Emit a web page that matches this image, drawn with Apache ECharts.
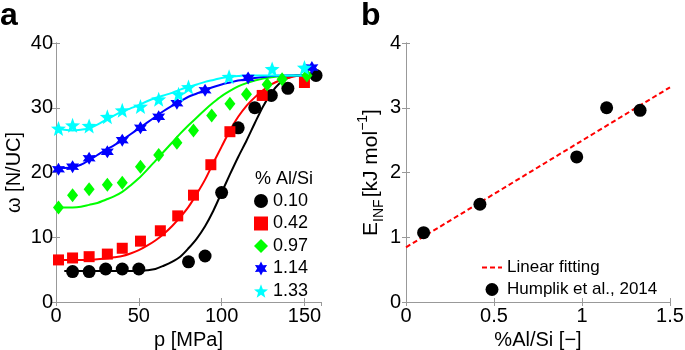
<!DOCTYPE html>
<html>
<head>
<meta charset="utf-8">
<script src="https://cdn.jsdelivr.net/npm/echarts@6/dist/echarts.min.js"></script>
<style>
  html, body { margin: 0; padding: 0; background: #fff; }
  #chart { width: 685px; height: 350px; }
</style>
</head>
<body>
<div id="chart"></div>
<script>
// panel a: measured points, one pair of arrays per Al/Si ratio
const pBlack = [10, 20, 30, 40, 50, 80, 90, 100, 110, 120, 130, 140, 157];
const wBlack = [4.7, 4.7, 5.1, 5.1, 5.1, 6.2, 7.1, 16.9, 26.9, 30.0, 31.9, 33.0, 35.0];
const pRed = [1.5, 10, 20, 31, 40, 51, 63, 73.5, 83, 93.5, 105, 124.5, 150];
const wRed = [6.5, 6.8, 7.0, 7.4, 8.3, 9.4, 11.0, 13.3, 16.5, 21.2, 26.3, 31.9, 33.9];
const pGreen = [1.5, 10, 20, 31, 40, 51, 62, 73, 83, 94, 105, 115, 127.5, 136.5, 151.5];
const wGreen = [14.6, 16.5, 17.4, 18.1, 18.4, 20.9, 22.7, 24.6, 26.5, 28.8, 30.6, 32.1, 33.6, 34.4, 35.0];
const pBlue = [1.5, 10, 20, 31, 40, 51, 62, 73, 90, 116, 154.5];
const wBlue = [20.5, 20.9, 22.2, 23.2, 25.0, 26.9, 28.6, 30.7, 32.7, 34.6, 36.2];
const pCyan = [1.5, 10, 20, 31, 40, 51, 62, 74, 80, 104.5, 130.5, 150];
const wCyan = [26.8, 27.3, 27.2, 28.6, 29.6, 30.2, 31.3, 32.1, 33.2, 34.8, 36.0, 36.2];

// panel a: fitted curves, sampled on a common pressure grid
const fitP = [0, 5, 10, 15, 20, 25, 30, 35, 40, 45, 50, 55, 60, 65, 70, 75,
  80, 85, 90, 95, 100, 105, 110, 115, 120, 125, 130, 135, 140, 145, 150, 155];
const fitBlack = [null, 4.8, 4.8, 4.8, 4.8, 4.8, 4.8, 4.8, 4.8, 4.8, 4.8, 4.9, 5.1, 5.6, 6.2, 7.0,
  8.3, 9.8, 11.7, 14.1, 16.9, 19.7, 22.4, 24.9, 27.6, 30.2, 32.3, 33.8, 34.6, 35.0, 35.0, 35.0];
const fitRed = [6.5, 6.5, 6.5, 6.5, 6.5, 6.6, 6.7, 6.9, 7.1, 7.5, 8.0, 8.7, 9.5, 10.5, 11.7, 13.1,
  14.7, 16.7, 18.9, 21.5, 24.0, 26.5, 28.6, 30.3, 31.6, 32.7, 33.6, 34.2, 34.6, 34.9, 35.0, 35.0];
const fitGreen = [14.6, 14.6, 14.6, 14.7, 15.0, 15.3, 15.8, 16.3, 17.0, 18.0, 19.1, 20.4, 21.8, 23.2, 24.6, 26.0,
  27.3, 28.5, 29.7, 30.8, 31.8, 32.6, 33.3, 33.8, 34.2, 34.5, 34.7, 34.85, 34.95, 35.0, 35.0, 35.0];
const fitBlue = [20.8, 20.7, 20.8, 21.2, 21.9, 22.7, 23.5, 24.2, 25.0, 25.9, 26.8, 27.7, 28.6, 29.5, 30.3, 31.0,
  31.7, 32.2, 32.7, 33.2, 33.6, 33.9, 34.2, 34.4, 34.6, 34.75, 34.9, 34.95, 35.0, 35.0, 35.0, 35.0];
const fitCyan = [26.8, 26.6, 26.5, 26.6, 26.8, 27.4, 28.1, 28.8, 29.4, 29.9, 30.4, 31.0, 31.5, 31.9, 32.3, 32.8,
  33.2, 33.6, 34.0, 34.3, 34.6, 34.8, 34.9, 35.0, 35.0, 35.0, 35.0, 35.0, 35.0, 35.0, 35.0, 35.0];

const ratioNames = ["0.10", "0.42", "0.97", "1.14", "1.33"];

// panel b
const xAlSi = [0.10, 0.42, 0.97, 1.14, 1.33];
const eInf = [1.07, 1.51, 2.24, 3.0, 2.96];
const lineX = [0, 1.5];
const lineY = [0.845, 3.316];

const FONT = "Liberation Sans, Arial, sans-serif";

function zip(xs, ys) {
  return xs.map((x, i) => [x, ys[i]]);
}

// star outline for the pentagram / hexagram markers
function starPath(n, inner) {
  let d = "";
  for (let i = 0; i < 2 * n; i++) {
    const r = i % 2 ? inner : 1;
    const a = -Math.PI / 2 + (i * Math.PI) / n;
    d += (i ? "L" : "M") + (r * Math.cos(a)).toFixed(4) + " " + (r * Math.sin(a)).toFixed(4);
  }
  return "path://" + d + "Z";
}

function boxAxis(grid, pos, min, max, interval) {
  return {
    type: "value",
    gridIndex: grid,
    position: pos,
    min: min,
    max: max,
    interval: interval,
    axisLine: { show: true, lineStyle: { color: "#999", width: 1 } },
    axisTick: { show: true, inside: true, length: 4, lineStyle: { color: "#999" } },
    axisLabel: { show: false },
    splitLine: { show: false }
  };
}

const tickLabel = { color: "#000", fontSize: 20, fontFamily: FONT };

const chart = echarts.init(document.getElementById("chart"), null, { renderer: "canvas" });

const fitLine = (data, color) => ({
  type: "line",
  xAxisIndex: 0,
  yAxisIndex: 0,
  data: data,
  symbol: "none",
  smooth: 0.3,
  connectNulls: false,
  lineStyle: { color: color, width: 2 },
  z: 2,
  silent: true
});

const scat = (name, data, color, symbol, size) => ({
  name: name,
  type: "scatter",
  xAxisIndex: 0,
  yAxisIndex: 0,
  data: data,
  symbol: symbol,
  symbolSize: size,
  itemStyle: { color: color, opacity: 1 },
  z: 3
});

const option = {
  animation: false,
  backgroundColor: "#fff",
  textStyle: { fontFamily: FONT },
  grid: [
    { left: 56, top: 43, width: 265, height: 259, outerBoundsMode: "none", containLabel: false },
    { left: 406, top: 43, width: 264, height: 259, outerBoundsMode: "none", containLabel: false }
  ],
  graphic: [
    { type: "text", left: 0, top: 0, style: { text: "a", font: "bold 32px " + FONT, fill: "#000" } },
    { type: "text", left: 361, top: 0, style: { text: "b", font: "bold 32px " + FONT, fill: "#000" } },
    { type: "text", left: 255, top: 170, style: { text: "% Al/Si", font: "18px " + FONT, fill: "#000" } }
  ],
  legend: [
    {
      data: ratioNames,
      orient: "vertical",
      left: 254,
      top: 192,
      itemWidth: 14,
      itemHeight: 14,
      itemGap: 4.5,
      padding: 0,
      textStyle: { fontSize: 18, color: "#000", fontFamily: FONT, lineHeight: 17 }
    },
    {
      data: ["Linear fitting", "Humplik et al., 2014"],
      orient: "vertical",
      left: 481,
      top: 259,
      itemWidth: 20,
      itemHeight: 13,
      itemGap: 5,
      padding: 0,
      textStyle: { fontSize: 17, color: "#000", fontFamily: FONT, lineHeight: 16 }
    }
  ],
  xAxis: [
    {
      type: "value",
      gridIndex: 0,
      min: 0,
      max: 160,
      interval: 50,
      name: "p [MPa]",
      nameLocation: "middle",
      nameGap: 23,
      nameTextStyle: { fontSize: 20, color: "#000", fontFamily: FONT },
      axisLine: { show: true, lineStyle: { color: "#999" } },
      axisTick: { inside: true, length: 4, lineStyle: { color: "#999" } },
      axisLabel: Object.assign({ margin: 4, showMaxLabel: false }, tickLabel),
      splitLine: { show: false }
    },
    boxAxis(0, "top", 0, 160, 50),
    {
      type: "value",
      gridIndex: 1,
      min: 0,
      max: 1.5,
      interval: 0.5,
      name: "%Al/Si [\u2212]",
      nameLocation: "middle",
      nameGap: 23,
      nameTextStyle: { fontSize: 20, color: "#000", fontFamily: FONT },
      axisLine: { show: true, lineStyle: { color: "#999" } },
      axisTick: { inside: true, length: 4, lineStyle: { color: "#999" } },
      axisLabel: Object.assign({ margin: 4 }, tickLabel),
      splitLine: { show: false }
    },
    boxAxis(1, "top", 0, 1.5, 0.5)
  ],
  yAxis: [
    {
      type: "value",
      gridIndex: 0,
      min: 0,
      max: 40,
      interval: 10,
      name: "\u03c9 [N/UC]",
      nameLocation: "middle",
      nameGap: 32,
      nameTextStyle: { fontSize: 20, color: "#000", fontFamily: FONT },
      axisLine: { show: true, lineStyle: { color: "#999" } },
      axisTick: { inside: true, length: 4, lineStyle: { color: "#999" } },
      axisLabel: Object.assign({ margin: 3 }, tickLabel),
      splitLine: { show: false }
    },
    boxAxis(0, "right", 0, 40, 10),
    {
      type: "value",
      gridIndex: 1,
      min: 0,
      max: 4,
      interval: 1,
      name: "{b|E}{s|INF}{b|[kJ mol}{p|\u22121}{b|]}",
      nameLocation: "middle",
      nameGap: 19,
      nameTextStyle: {
        color: "#000",
        fontFamily: FONT,
        rich: {
          b: { fontSize: 21, fontFamily: FONT, color: "#000", lineHeight: 30, verticalAlign: "middle" },
          s: { fontSize: 14, fontFamily: FONT, color: "#000", lineHeight: 30, verticalAlign: "bottom", padding: [0, 2, 0, 0] },
          p: { fontSize: 14, fontFamily: FONT, color: "#000", lineHeight: 30, verticalAlign: "top" }
        }
      },
      axisLine: { show: true, lineStyle: { color: "#999" } },
      axisTick: { inside: true, length: 4, lineStyle: { color: "#999" } },
      axisLabel: Object.assign({ margin: 5 }, tickLabel),
      splitLine: { show: false }
    },
    boxAxis(1, "right", 0, 4, 1)
  ],
  series: [
    fitLine(zip(fitP, fitBlack), "#000"),
    fitLine(zip(fitP, fitRed), "#ff0000"),
    fitLine(zip(fitP, fitGreen), "#00ff00"),
    fitLine(zip(fitP, fitBlue), "#0000ff"),
    fitLine(zip(fitP, fitCyan), "#00ffff"),
    scat(ratioNames[0], zip(pBlack, wBlack), "#000", "circle", 13),
    scat(ratioNames[1], zip(pRed, wRed), "#ff0000", "rect", 11),
    scat(ratioNames[2], zip(pGreen, wGreen), "#00ff00", "diamond", [11, 14]),
    scat(ratioNames[3], zip(pBlue, wBlue), "#0000ff", starPath(6, 0.55), 13),
    scat(ratioNames[4], zip(pCyan, wCyan), "#00ffff", starPath(5, 0.42), 15),
    {
      name: "Linear fitting",
      type: "line",
      xAxisIndex: 2,
      yAxisIndex: 2,
      data: zip(lineX, lineY),
      symbol: "none",
      itemStyle: { color: "rgba(0,0,0,0)" },
      lineStyle: { color: "#ff0000", width: 2, type: [5, 3] },
      z: 2
    },
    {
      name: "Humplik et al., 2014",
      type: "scatter",
      xAxisIndex: 2,
      yAxisIndex: 2,
      data: zip(xAlSi, eInf),
      symbol: "circle",
      symbolSize: 13,
      itemStyle: { color: "#000", opacity: 1 },
      z: 3
    }
  ]
};

chart.setOption(option);
</script>
</body>
</html>
